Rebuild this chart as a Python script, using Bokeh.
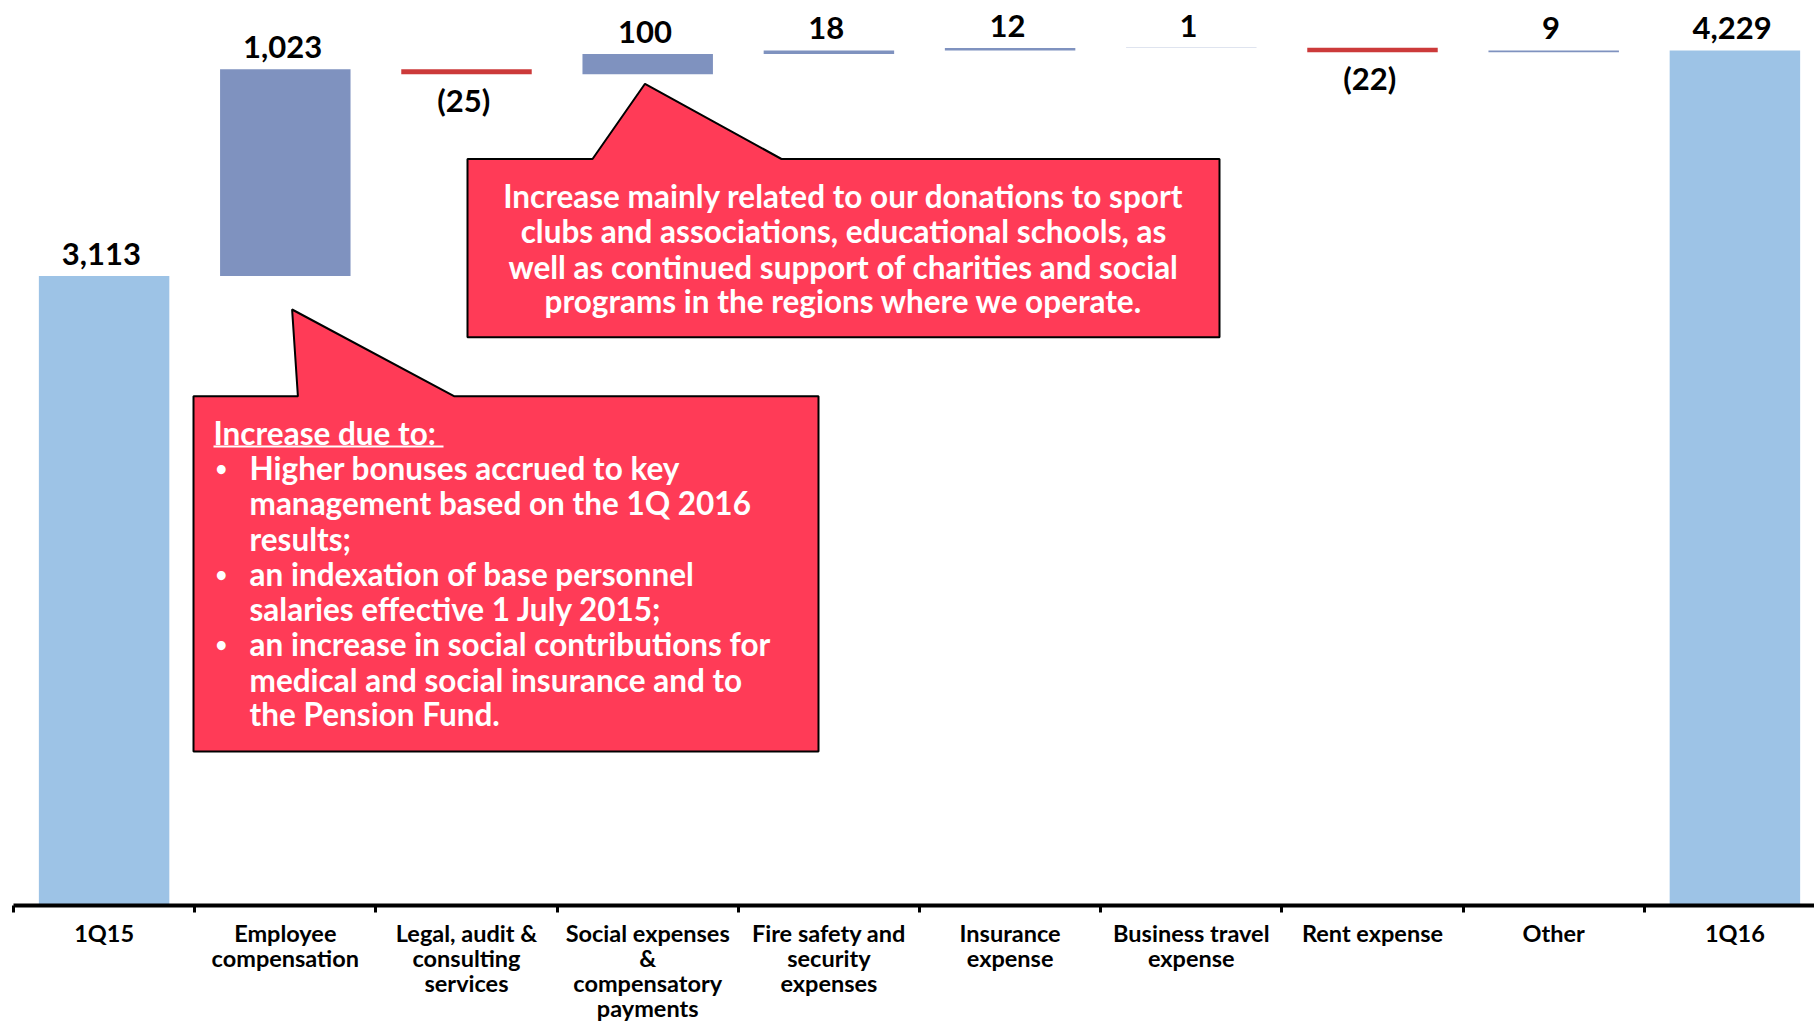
import numpy as np
from bokeh.plotting import figure
from bokeh.models import ColumnDataSource, Range1d, FixedTicker
from bokeh.core.properties import value
from bokeh.embed import file_html
from bokeh.resources import INLINE

# ---------------- data ----------------
categories = ["1Q15", "Employee\ncompensation", "Legal, audit &\nconsulting\nservices",
              "Social expenses\n&\ncompensatory\npayments", "Fire safety and\nsecurity\nexpenses",
              "Insurance\nexpense", "Business travel\nexpense", "Rent expense", "Other", "1Q16"]
values = [3113, 1023, -25, 100, 18, 12, 1, -22, 9, 4229]
kinds = ["total", "delta", "delta", "delta", "delta", "delta", "delta", "delta", "delta", "total"]

callout1_lines = ["Increase mainly related to our donations to sport",
                  "clubs and associations, educational schools, as",
                  "well as continued support of charities and social",
                  "programs in the regions where we operate."]
callout2_title = "Increase due to:"
callout2_lines = ["Higher bonuses accrued to key",
                  "management based on the 1Q 2016",
                  "results;",
                  "an indexation of base personnel",
                  "salaries effective 1 July 2015;",
                  "an increase in social contributions for",
                  "medical and social insurance and to",
                  "the Pension Fund."]
callout2_bullets = [True, False, False, True, False, True, False, False]

# ---------------- layout constants ----------------
FRAME_W, FRAME_H = 1801, 896
FRAME_LEFT = 13          # page px
FRAME_TOP = 9            # page px
AXIS_Y = FRAME_TOP + FRAME_H
CAT_PX = 181.2
UNIT_PX = 0.2022

def px2x(px):
    return 0.5 + (px - FRAME_LEFT) / CAT_PX

def px2y(py):
    return (AXIS_Y - py) / UNIT_PX

C_TOTAL = "#9DC3E6"
C_UP = "#7F92BF"
C_DOWN = "#CC3A3A"
C_CALL = "#FF3B57"
FONT = value("Lato")

# ---------------- waterfall computation ----------------
xs = np.arange(1, len(categories) + 1)
bottoms, tops, colors = [], [], []
run = 0
for v, k in zip(values, kinds):
    if k == "total":
        b, t = 0, v
        run = v
        colors.append(C_TOTAL)
    else:
        b, t = run, run + v
        run = run + v
        colors.append(C_UP if v > 0 else C_DOWN)
    bottoms.append(min(b, t))
    tops.append(max(b, t))

lab_text, lab_y, lab_x = [], [], []
for x, v, b, t in zip(xs, values, bottoms, tops):
    if v >= 0:
        lab_text.append(f"{v:,}")
        lab_y.append(t + 22 / UNIT_PX)
    else:
        lab_text.append(f"({-v:,})")
        lab_y.append(b - 26 / UNIT_PX)
    lab_x.append(x - 0.015)

bar_src = ColumnDataSource(dict(x=xs, bottom=bottoms, top=tops, color=colors))
lab_src = ColumnDataSource(dict(x=lab_x, y=lab_y, text=lab_text))

# ---------------- figure ----------------
p = figure(frame_width=FRAME_W, frame_height=FRAME_H,
           x_range=Range1d(0.5, 0.5 + FRAME_W / CAT_PX),
           y_range=Range1d(0, FRAME_H / UNIT_PX),
           output_backend="svg", toolbar_location=None,
           min_border_left=FRAME_LEFT, min_border_right=0, min_border_top=FRAME_TOP,
           min_border_bottom=104)
p.outline_line_color = None
p.grid.visible = False
p.yaxis.visible = False
p.background_fill_color = "white"

p.vbar(x="x", width=0.72, bottom="bottom", top="top", fill_color="color",
       line_color=None, source=bar_src)

p.text(x="x", y="y", text="text", source=lab_src, text_font=FONT, text_font_style="bold",
       text_font_size="31px", text_align="center", text_baseline="middle", text_color="black")

# x axis
ax = p.xaxis[0]
ax.ticker = FixedTicker(ticks=list(xs), minor_ticks=[i + 0.5 for i in range(0, len(categories) + 1)])
ax.major_label_overrides = {int(x): c for x, c in zip(xs, categories)}
ax.axis_line_width = 4
ax.axis_line_color = "black"
ax.major_tick_line_color = None
ax.major_tick_out = 0
ax.major_tick_in = 0
ax.minor_tick_line_color = "black"
ax.minor_tick_line_width = 3
ax.minor_tick_out = 7
ax.minor_tick_in = 0
ax.major_label_standoff = 6
ax.major_label_text_font = "Lato"
ax.major_label_text_font_style = "bold"
ax.major_label_text_font_size = "23.5px"
ax.major_label_text_line_height = 0.9
ax.major_label_text_color = "black"

# ---------------- callout 1 ----------------
c1x = [467, 592, 644.5, 781, 1219, 1219, 467]
c1y = [158.5, 158.5, 83.3, 158.5, 158.5, 336.7, 336.7]
p.patch([px2x(v) for v in c1x], [px2y(v) for v in c1y], fill_color=C_CALL,
        line_color="black", line_width=2)
c1_ly = [195.5, 230.2, 266.0, 300.8]
p.text(x=[px2x(843)] * 4, y=[px2y(v) for v in c1_ly], text=callout1_lines,
       text_font=FONT, text_font_style="bold", text_font_size="31.5px",
       text_align="center", text_baseline="middle", text_color="white")

# ---------------- callout 2 ----------------
c2x = [193, 297.4, 291.6, 453.5, 818, 818, 193]
c2y = [395.7, 395.7, 309, 395.7, 395.7, 751, 751]
p.patch([px2x(v) for v in c2x], [px2y(v) for v in c2y], fill_color=C_CALL,
        line_color="black", line_width=2)
p.text(x=[px2x(213)], y=[px2y(432.7)], text=[callout2_title],
       text_font=FONT, text_font_style="bold", text_font_size="31.5px",
       text_align="left", text_baseline="middle", text_color="white")
p.line([px2x(213), px2x(443)], [px2y(446), px2y(446)], line_color="white", line_width=2)
c2_ly = [467.4, 502.1, 538.0, 573.9, 608.6, 643.3, 679.2, 713.9]
p.text(x=[px2x(249)] * len(c2_ly), y=[px2y(v) for v in c2_ly], text=callout2_lines,
       text_font=FONT, text_font_style="bold", text_font_size="31.5px",
       text_align="left", text_baseline="middle", text_color="white")
bul_y = [px2y(v) for v, b in zip(c2_ly, callout2_bullets) if b]
p.text(x=[px2x(215)] * len(bul_y), y=bul_y, text=["•"] * len(bul_y),
       text_font=FONT, text_font_style="bold", text_font_size="20px",
       text_align="left", text_baseline="middle", text_color="white")

open("out.html", "w").write(file_html(p, INLINE))
